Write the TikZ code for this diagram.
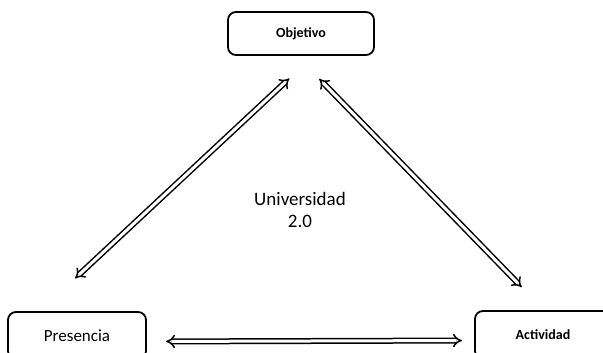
\documentclass[tikz,border=0pt]{standalone}
\usepackage{fontspec}
\setmainfont{Carlito}
\usetikzlibrary{arrows.meta}
\begin{document}
\begin{tikzpicture}[x=1pt,y=-1pt,
  box/.style={draw=black, line width=1.8pt, rounded corners=8pt, inner sep=0pt,
    align=center},
  link/.style={double=white, draw=black, line width=1.5pt, double distance=3pt,
    {Implies}-{Implies}}]
  \useasboundingbox (0,0) rectangle (603,353);
  \clip (0,0) rectangle (603,353);

  % the three poles of the triangle
  \node[box, minimum width=146pt, minimum height=43pt, font=\bfseries\fontsize{14}{16}\selectfont]
    (obj) at (301,33.5) {Objetivo};
  \node[box, minimum width=138pt, minimum height=47pt, font=\fontsize{17}{19}\selectfont]
    (pres) at (77,335.5) {Presencia};
  \node[box, minimum width=136pt, minimum height=48pt, font=\bfseries\fontsize{14}{16}\selectfont]
    (act) at (543,335) {Actividad};

  % centre label
  \node[align=center, font=\fontsize{19}{22}\selectfont] (uni) at (300,210) {Universidad\\2.0};

  % two-way links between the poles
  \draw[link, shorten <=33pt, shorten >=48pt]
    ([xshift=12.5pt]obj.south) -- ([xshift=-37pt]pres.north);
  \draw[link, shorten <=32pt, shorten >=32pt]
    ([xshift=-4pt]obj.south) -- ([xshift=1pt]act.north);
  \draw[link, shorten <=19pt, shorten >=12pt]
    ([yshift=-6pt]pres.east) -- ([yshift=-5.5pt]act.west);
\end{tikzpicture}
\end{document}
